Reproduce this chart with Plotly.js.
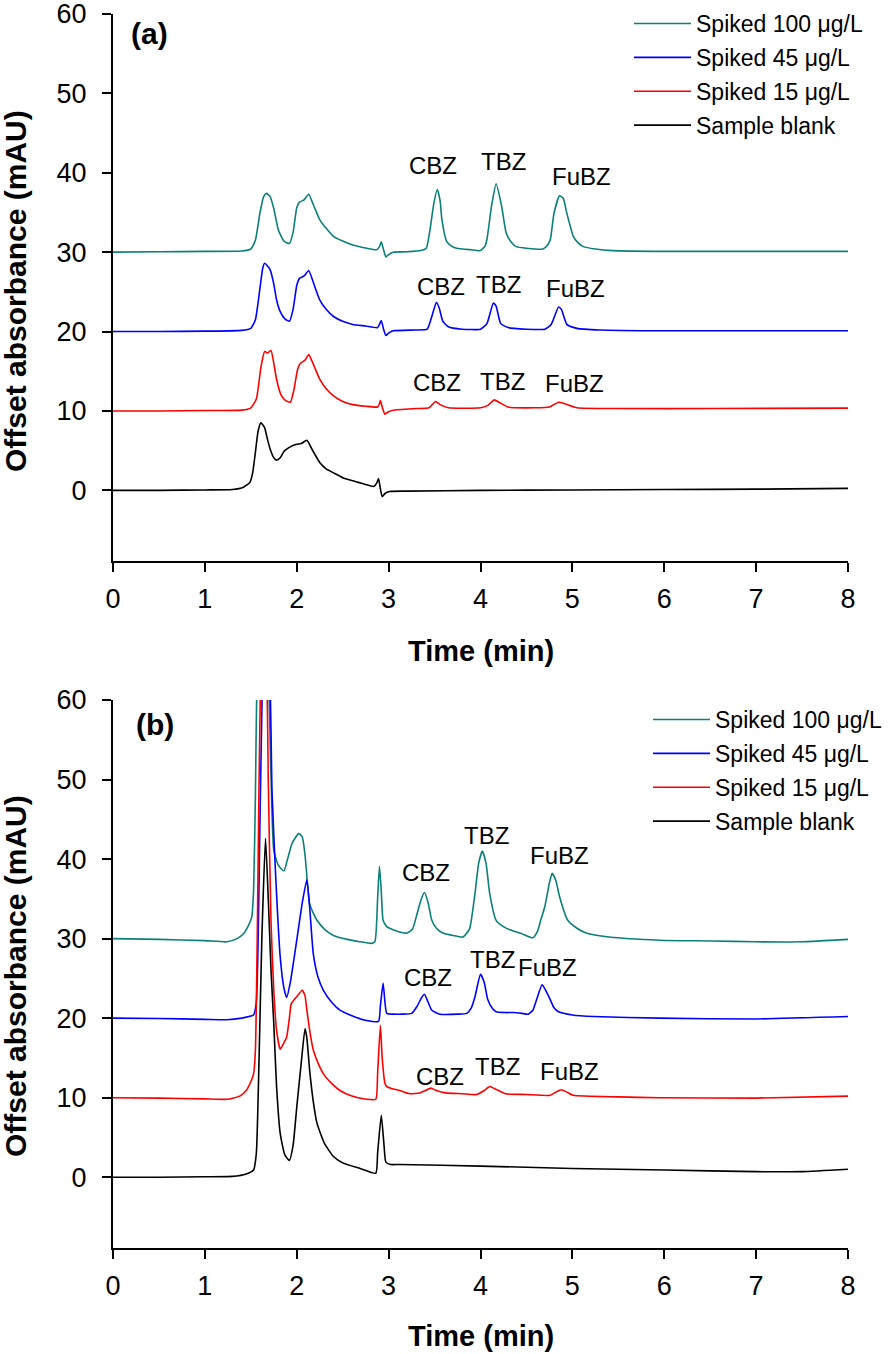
<!DOCTYPE html>
<html>
<head>
<meta charset="utf-8">
<script src="https://cdn.plot.ly/plotly-3.0.1.min.js"></script>
<style>html,body{margin:0;padding:0;background:#fff;}#chart{width:896px;height:1354px;}</style>
</head>
<body>
<div id="chart"></div>
<script>
// ---------- Data (time in min, offset absorbance in mAU) ----------
const seriesNames = ['Spiked 100 \u03bcg/L', 'Spiked 45 \u03bcg/L', 'Spiked 15 \u03bcg/L', 'Sample blank'];
const seriesColors = ['#0b8078', '#0000ff', '#ff0000', '#000000'];

// Panel (a)
const a100_t = [0,0.5,1.0,1.4,1.5,1.55,1.6,1.64,1.67,1.71,1.75,1.8,1.86,1.92,1.96,2.0,2.03,2.08,2.13,2.18,2.25,2.32,2.40,2.5,2.61,2.72,2.87,2.90,2.92,2.945,2.97,3.0,3.05,3.2,3.35,3.41,3.45,3.49,3.53,3.56,3.58,3.63,3.68,3.74,3.9,4.0,4.05,4.07,4.12,4.17,4.23,4.28,4.34,4.39,4.5,4.68,4.73,4.76,4.80,4.86,4.9,4.94,5.01,5.06,5.12,5.25,5.44,6,7,8];
const a100_v = [30.0,30.05,30.1,30.15,30.4,31.5,35.0,37.0,37.4,37.0,35.5,32.8,31.4,31.1,32.5,35.6,36.3,36.6,37.3,36.0,34.1,33.0,32.0,31.4,30.9,30.6,30.3,30.7,31.3,30.3,29.4,29.7,30.0,30.05,30.2,30.5,32.8,36.0,37.9,36.5,34.1,31.4,30.8,30.5,30.3,30.2,30.8,31.6,35.8,38.6,35.8,32.4,31.2,30.7,30.5,30.4,30.9,31.6,34.9,37.1,36.8,34.9,32.0,31.2,30.7,30.4,30.2,30.1,30.1,30.1];

const a45_t = [0,0.5,1.0,1.4,1.5,1.55,1.6,1.63,1.65,1.68,1.71,1.75,1.78,1.82,1.87,1.92,1.96,2.0,2.03,2.08,2.13,2.18,2.25,2.32,2.40,2.5,2.61,2.75,2.88,2.90,2.92,2.945,2.97,3.0,3.05,3.3,3.42,3.47,3.52,3.55,3.59,3.65,3.8,4.0,4.07,4.14,4.17,4.22,4.3,4.5,4.7,4.77,4.85,4.88,4.94,5.05,5.3,6,7,8];
const a45_v = [20.0,20.0,20.05,20.15,20.4,21.5,25.5,28.0,28.6,28.3,27.8,26.0,24.0,22.5,21.6,21.3,22.8,25.8,26.7,27.0,27.7,26.2,24.0,22.8,21.9,21.3,20.9,20.7,20.5,20.9,21.4,20.3,19.5,19.8,20.1,20.2,20.3,21.9,23.7,23.0,21.3,20.6,20.3,20.3,21.0,23.6,23.2,21.0,20.5,20.3,20.3,20.9,23.1,22.8,20.9,20.4,20.2,20.1,20.1,20.1];

const a15_t = [0,0.5,1.0,1.4,1.5,1.56,1.61,1.65,1.68,1.72,1.75,1.78,1.83,1.88,1.93,1.97,2.01,2.04,2.09,2.13,2.18,2.25,2.32,2.40,2.5,2.61,2.75,2.88,2.90,2.91,2.935,2.96,3.0,3.05,3.3,3.44,3.51,3.56,3.65,4.0,4.08,4.15,4.2,4.3,4.6,4.75,4.85,4.92,5.05,5.5,6.5,8];
const a15_v = [10.0,10.0,10.05,10.1,10.4,11.5,15.5,17.5,17.3,17.6,16.0,14.0,12.0,11.3,11.1,12.7,15.3,16.0,16.4,17.1,15.9,14.0,12.8,11.9,11.2,10.8,10.6,10.5,10.9,11.3,10.3,9.6,9.9,10.1,10.3,10.4,11.2,10.8,10.4,10.4,10.7,11.4,11.1,10.5,10.4,10.5,11.1,10.9,10.4,10.3,10.3,10.35];

const a0_t = [0,0.5,1.0,1.3,1.42,1.49,1.52,1.55,1.58,1.61,1.65,1.68,1.71,1.75,1.78,1.82,1.86,1.89,1.95,2.0,2.05,2.11,2.16,2.25,2.32,2.40,2.5,2.61,2.73,2.84,2.87,2.89,2.91,2.93,2.96,3.01,3.2,4,5,6,7,8];
const a0_v = [0.0,0.0,0.05,0.1,0.4,1.0,2.2,4.8,7.5,8.5,7.9,6.5,5.2,4.1,3.8,4.1,4.9,5.2,5.6,5.8,5.9,6.3,5.3,3.5,2.7,2.2,1.6,1.2,0.8,0.5,0.9,1.5,0.2,-0.8,-0.4,-0.15,-0.1,0.0,0.05,0.1,0.15,0.25];

// Panel (b)
const b100_t = [0,0.5,1.0,1.24,1.35,1.42,1.48,1.51,1.53,1.55,1.57,1.63,1.68,1.70,1.73,1.75,1.80,1.86,1.90,1.95,2.02,2.06,2.09,2.14,2.18,2.22,2.30,2.40,2.55,2.69,2.81,2.85,2.88,2.90,2.92,2.94,2.98,3.01,3.10,3.20,3.26,3.30,3.35,3.39,3.43,3.47,3.52,3.59,3.70,3.81,3.88,3.94,3.98,4.02,4.06,4.10,4.17,4.25,4.32,4.45,4.57,4.62,4.66,4.70,4.75,4.78,4.82,4.86,4.95,5.05,5.15,5.4,5.95,6.5,7.0,7.5,8.0];
const b100_v = [30.0,29.9,29.75,29.6,30.0,30.6,31.8,32.7,36,48,65,80,75,60,46,41.1,39.2,38.5,40.0,42.0,43.2,42.8,40.5,34.4,33.2,32.3,31.2,30.4,29.9,29.6,29.4,29.6,35,39.1,36,32.3,31.5,31.3,30.9,30.7,31.2,32.7,34.8,35.8,34.5,32.3,31.3,30.7,30.4,30.2,31.2,35.7,39.5,41.0,39.5,35.7,32.3,31.5,31.1,30.6,30.1,30.9,32.5,34.0,37.0,38.2,37.3,35.3,32.3,31.3,30.7,30.2,29.8,29.7,29.6,29.6,29.9];

const b45_t = [0,0.5,1.0,1.24,1.4,1.48,1.53,1.56,1.58,1.60,1.63,1.66,1.70,1.72,1.73,1.77,1.82,1.86,1.89,1.93,2.00,2.06,2.11,2.14,2.18,2.23,2.29,2.38,2.47,2.6,2.76,2.89,2.91,2.94,2.96,2.98,3.05,3.15,3.25,3.31,3.36,3.39,3.43,3.47,3.56,3.75,3.85,3.9,3.94,4.00,4.04,4.08,4.13,4.17,4.27,4.36,4.45,4.52,4.57,4.61,4.67,4.71,4.76,4.80,4.85,5.0,5.23,5.95,7.0,8.0];
const b45_v = [20.0,19.95,19.85,19.8,20.0,20.2,20.4,22,30,45,65,80,68,56,48.7,38,27.7,23.8,22.6,24.5,29.8,34.5,37.4,34,28.1,25.2,23.5,22.0,21.0,20.3,19.7,19.6,21.5,24.4,22.0,20.6,20.5,20.5,20.6,21.5,22.6,23.0,22.0,21.0,20.5,20.5,20.6,21.3,22.7,25.5,24.5,22.3,21.2,20.8,20.7,20.7,20.6,20.5,21.0,22.3,24.2,23.5,22.3,21.3,20.8,20.4,20.2,20.0,19.9,20.2];

const b15_t = [0,0.5,1.0,1.24,1.38,1.45,1.50,1.53,1.55,1.57,1.59,1.61,1.64,1.67,1.69,1.72,1.75,1.78,1.82,1.86,1.89,1.92,1.94,2.00,2.06,2.09,2.11,2.15,2.18,2.23,2.29,2.38,2.47,2.6,2.76,2.86,2.88,2.91,2.93,2.96,2.98,3.05,3.12,3.23,3.34,3.40,3.46,3.52,3.62,3.80,3.96,4.04,4.10,4.16,4.27,4.5,4.76,4.82,4.88,4.94,5.01,5.5,5.95,7.0,8.0];
const b15_v = [10.0,9.95,9.85,9.8,10.2,10.9,12.0,13.0,16,30,50,65,78,68,50,32,23.5,18.5,16.1,16.9,17.6,20.0,21.8,22.7,23.5,22.8,21.0,17.8,16.0,14.4,13.0,11.8,10.9,10.2,9.8,9.8,13,19.1,15,11.8,11.4,11.1,10.9,10.5,10.6,10.9,11.2,10.9,10.6,10.5,10.4,10.9,11.4,11.1,10.5,10.4,10.3,10.7,11.0,10.7,10.3,10.1,10.0,9.95,10.2];

const b0_t = [0,0.5,1.0,1.3,1.45,1.53,1.56,1.59,1.62,1.66,1.69,1.72,1.75,1.78,1.82,1.87,1.92,1.96,2.00,2.05,2.09,2.11,2.14,2.18,2.22,2.30,2.40,2.5,2.69,2.86,2.88,2.92,2.95,2.97,3.02,3.12,4.0,5.0,6.0,7.0,7.5,8.0];
const b0_v = [0.0,0.0,0.05,0.1,0.4,0.9,3.0,15,30,42.6,35,26,19.3,11.5,5.5,2.8,2.1,4.0,8.8,14.5,18.7,17.5,13.5,9.5,6.8,4.3,2.6,1.8,1.1,0.5,3,7.8,4,1.9,1.6,1.6,1.4,1.1,0.9,0.7,0.7,1.0];

// Peak labels
const peakLabels = ['CBZ', 'TBZ', 'FuBZ'];
const aLabelT = [[3.48,4.25,5.10],[3.57,4.20,5.03],[3.53,4.24,5.02]];
const aLabelV = [[40.9,41.4,39.5],[25.7,25.9,25.4],[13.6,13.7,13.5]];
const bLabelT = [[3.41,4.07,4.86],[3.43,4.13,4.73],[3.56,4.18,4.97]];
const bLabelV = [[38.3,43.0,40.4],[25.1,27.4,26.4],[12.7,13.9,13.3]];

const xTickVals = [0,1,2,3,4,5,6,7,8];
const yTickVals = [0,10,20,30,40,50,60];

// ---------- Build ----------
const FONT = 'Liberation Sans, Arial, Helvetica, sans-serif';
const W = 896, H = 1354;

const panelA = [[a100_t,a100_v],[a45_t,a45_v],[a15_t,a15_v],[a0_t,a0_v]];
const panelB = [[b100_t,b100_v],[b45_t,b45_v],[b15_t,b15_v],[b0_t,b0_v]];

const traces = [];
function addPanel(panel, xa, ya, leg, prefix) {
  panel.forEach((s, i) => {
    traces.push({
      type: 'scatter', mode: 'lines',
      x: s[0], y: s[1],
      name: seriesNames[i],
      xaxis: xa, yaxis: ya, legend: leg,
      legendgroup: prefix + i,
      line: {color: seriesColors[i], width: 1.6, shape: 'spline', smoothing: 0.5},
      hoverinfo: 'x+y+name'
    });
  });
}
addPanel(panelA, 'x', 'y', 'legend', 'a');
addPanel(panelB, 'x2', 'y2', 'legend2', 'b');

const annotations = [];
function addLabels(T, V, xr, yr) {
  for (let i = 0; i < 3; i++) for (let j = 0; j < 3; j++) {
    annotations.push({x: T[i][j], y: V[i][j], xref: xr, yref: yr, text: peakLabels[j],
      xanchor: 'center', yanchor: 'middle',
      showarrow: false, font: {family: FONT, size: 24, color: '#000'}});
  }
}
addLabels(aLabelT, aLabelV, 'x', 'y');
addLabels(bLabelT, bLabelV, 'x2', 'y2');
annotations.push({x: 0.40, y: 57.6, xref: 'x', yref: 'y', text: '<b>(a)</b>', xanchor: 'center', yanchor: 'middle', showarrow: false, font: {family: FONT, size: 30, color: '#000'}});
annotations.push({x: 0.46, y: 56.9, xref: 'x2', yref: 'y2', text: '<b>(b)</b>', xanchor: 'center', yanchor: 'middle', showarrow: false, font: {family: FONT, size: 30, color: '#000'}});
// axis titles
[[291, 651], [976, 1336]].forEach(p => {
  annotations.push({x: 15 / W, y: 1 - p[0] / H, xref: 'paper', yref: 'paper', textangle: -90,
    xanchor: 'center', yanchor: 'middle',
    text: '<b>Offset absorbance (mAU)</b>', showarrow: false, font: {family: FONT, size: 30, color: '#000'}});
  annotations.push({x: 480.5 / W, y: 1 - p[1] / H, xref: 'paper', yref: 'paper',
    xanchor: 'center', yanchor: 'middle',
    text: '<b>Time (min)</b>', showarrow: false, font: {family: FONT, size: 29, color: '#000'}});
});

function xAxis(anchor) {
  return {domain: [113 / W, 848 / W], range: [0, 8], anchor: anchor, tickvals: xTickVals,
    showline: true, linewidth: 2, linecolor: '#000', ticks: 'outside', ticklen: 9, tickwidth: 2, tickcolor: '#000',
    showgrid: false, zeroline: false, tickfont: {family: FONT, size: 27, color: '#000'}, ticklabelstandoff: 4,
    ticklabeloverflow: 'allow', fixedrange: true};
}
function yAxis(anchor, top, bottom) {
  return {domain: [1 - bottom / H, 1 - top / H], range: [-8.9, 60], anchor: anchor, tickvals: yTickVals,
    showline: true, linewidth: 2, linecolor: '#000', ticks: 'outside', ticklen: 9, tickwidth: 2, tickcolor: '#000',
    showgrid: false, zeroline: false, tickfont: {family: FONT, size: 27, color: '#000'}, ticklabelstandoff: 10,
    ticklabeloverflow: 'allow', fixedrange: true};
}
function legendCfg(x, y) {
  return {x: x, y: y, xanchor: 'left', yanchor: 'top', bgcolor: 'rgba(0,0,0,0)', borderwidth: 0,
    font: {family: FONT, size: 23, color: '#000'}, traceorder: 'grouped', tracegroupgap: 1, itemwidth: 57};
}

const layout = {
  width: W, height: H,
  margin: {l: 0, r: 0, t: 0, b: 0},
  paper_bgcolor: '#fff', plot_bgcolor: '#fff',
  showlegend: true,
  xaxis: xAxis('y'), yaxis: yAxis('x', 14, 561),
  xaxis2: xAxis('y2'), yaxis2: yAxis('x2', 700, 1248),
  legend: legendCfg(629 / W, 1 - 2 / H),
  legend2: legendCfg(648 / W, 1 - 698 / H),
  annotations: annotations,
  font: {family: FONT, color: '#000'}
};

Plotly.newPlot('chart', traces, layout, {displayModeBar: false, staticPlot: true});
</script>
</body>
</html>
